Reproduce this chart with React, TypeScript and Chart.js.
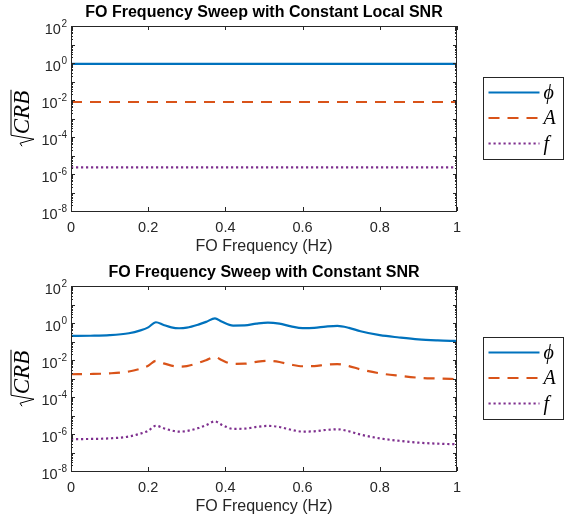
import React, { useEffect, useRef } from "react";
import { Chart, registerables } from "chart.js";

Chart.register(...registerables);

// ---------- Data ----------
const topFreqs = [0, 0.25, 0.5, 0.75, 1];
const topPhi = [0.9, 0.9, 0.9, 0.9, 0.9];
const topA = [0.0078, 0.0078, 0.0078, 0.0078, 0.0078];
const topF = [2.3e-6, 2.3e-6, 2.3e-6, 2.3e-6, 2.3e-6];

const botFreqs = [0, 0.05, 0.1, 0.15, 0.18, 0.2, 0.22, 0.24, 0.26, 0.28, 0.3, 0.33, 0.35, 0.373, 0.39, 0.42, 0.45, 0.48, 0.51, 0.54, 0.57, 0.6, 0.63, 0.66, 0.69, 0.72, 0.75, 0.8, 0.85, 0.9, 0.95, 1.0];
const botPhi = [0.2, 0.205, 0.22, 0.28, 0.4, 0.58, 1.1, 0.78, 0.58, 0.52, 0.56, 0.82, 1.15, 1.8, 1.2, 0.73, 0.74, 0.92, 1.05, 0.92, 0.66, 0.53, 0.55, 0.64, 0.7, 0.55, 0.36, 0.22, 0.165, 0.13, 0.115, 0.107];
const botA = [0.0017, 0.00175, 0.0019, 0.0024, 0.0034, 0.0049, 0.009, 0.0066, 0.005, 0.0044, 0.0047, 0.007, 0.0098, 0.015, 0.01, 0.0062, 0.0063, 0.0079, 0.009, 0.0078, 0.0056, 0.0046, 0.0047, 0.0055, 0.006, 0.0047, 0.0031, 0.0019, 0.0014, 0.0011, 0.001, 0.00093];
const botF = [5.3e-7, 5.4e-7, 5.8e-7, 7.3e-7, 1.05e-6, 1.5e-6, 2.8e-6, 2.05e-6, 1.55e-6, 1.35e-6, 1.45e-6, 2.1e-6, 3e-6, 4.8e-6, 3.2e-6, 1.9e-6, 1.95e-6, 2.4e-6, 2.75e-6, 2.4e-6, 1.7e-6, 1.35e-6, 1.4e-6, 1.65e-6, 1.8e-6, 1.4e-6, 9.3e-7, 5.8e-7, 4.3e-7, 3.4e-7, 3.0e-7, 2.8e-7];

const xTickValues = [0, 0.2, 0.4, 0.6, 0.8, 1];
const xTickLabels = ["0", "0.2", "0.4", "0.6", "0.8", "1"];
const yExponents = [-8, -6, -4, -2, 0, 2];
const seriesNames = ["ϕ", "A", "f"];

const COLORS = ["#0072BD", "#D95319", "#7E2F8E"];
const DASHES: number[][] = [[], [11, 8], [2.2, 2.8]];
const AXIS = "#262626";
const SANS = "'Liberation Sans', Arial, Helvetica, sans-serif";
const SERIF = "'Liberation Serif', 'DejaVu Serif', serif";

const matlabPlugin = {
  id: "matlabDecor",
  afterDraw(chart: any) {
    const ctx = chart.ctx as CanvasRenderingContext2D;
    const { left, right, top, bottom } = chart.chartArea;
    const xs = chart.scales.x;
    const ys = chart.scales.y;
    const title = chart.options.plugins.matlabDecor.title;
    ctx.save();
    // box
    ctx.strokeStyle = AXIS;
    ctx.lineWidth = 1;
    ctx.strokeRect(Math.round(left) + 0.5, Math.round(top) + 0.5, Math.round(right - left) - 1, Math.round(bottom - top));
    // x ticks
    ctx.beginPath();
    xTickValues.forEach((v) => {
      const px = Math.round(xs.getPixelForValue(v)) + 0.5;
      ctx.moveTo(px, bottom);
      ctx.lineTo(px, bottom - 4);
      ctx.moveTo(px, top);
      ctx.lineTo(px, top + 4);
    });
    // y ticks major/minor
    for (let e = -8; e <= 2; e++) {
      const py = Math.round(ys.getPixelForValue(Math.pow(10, e))) + 0.5;
      ctx.moveTo(left, py);
      ctx.lineTo(left + 4, py);
      ctx.moveTo(right, py);
      ctx.lineTo(right - 4, py);
      if (e < 2) {
        for (let m = 2; m <= 9; m++) {
          const pm = Math.round(ys.getPixelForValue(m * Math.pow(10, e))) + 0.5;
          ctx.moveTo(left, pm);
          ctx.lineTo(left + 2, pm);
          ctx.moveTo(right, pm);
          ctx.lineTo(right - 2, pm);
        }
      }
    }
    ctx.stroke();

    // y tick labels: 10^e
    ctx.fillStyle = AXIS;
    ctx.textBaseline = "alphabetic";
    yExponents.forEach((e) => {
      const py = ys.getPixelForValue(Math.pow(10, e));
      const expStr = e < 0 ? "-" + Math.abs(e) : String(e);
      ctx.font = `10px ${SANS}`;
      const ew = ctx.measureText(expStr).width;
      ctx.textAlign = "left";
      const xEnd = left - 4;
      ctx.fillText(expStr, xEnd - ew, py + 0.5);
      ctx.font = `14.5px ${SANS}`;
      ctx.textAlign = "right";
      ctx.fillText("10", xEnd - ew - 0.5, py + 7.5);
    });

    // title
    ctx.font = `bold 16px ${SANS}`;
    ctx.fillStyle = "#000";
    ctx.textAlign = "center";
    ctx.textBaseline = "middle";
    ctx.fillText(title, (left + right) / 2, top - 13);

    // x axis title
    ctx.font = `16px ${SANS}`;
    ctx.fillStyle = AXIS;
    ctx.fillText("FO Frequency (Hz)", (left + right) / 2, bottom + 36);

    // y axis title: sqrt(CRB)
    ctx.save();
    ctx.translate(29, (top + bottom) / 2);
    ctx.rotate(-Math.PI / 2);
    ctx.font = `italic 23px ${SERIF}`;
    ctx.fillStyle = "#000";
    ctx.textAlign = "left";
    ctx.textBaseline = "alphabetic";
    const txt = "CRB";
    const tw = ctx.measureText(txt).width;
    const radW = 12;
    const total = tw + radW;
    const x0 = -total / 2;
    ctx.fillText(txt, x0 + radW, 0);
    ctx.strokeStyle = "#000";
    ctx.lineWidth = 1;
    ctx.beginPath();
    ctx.moveTo(x0, -7);
    ctx.lineTo(x0 + 3, -9);
    ctx.lineTo(x0 + 7, 5);
    ctx.lineTo(x0 + radW - 1, -18);
    ctx.lineTo(x0 + total + 1, -18);
    ctx.stroke();
    ctx.restore();

    // legend
    const lx = 483.5, ly = 77.5, lw = 80, lh = 82;
    ctx.fillStyle = "#fff";
    ctx.fillRect(lx, ly, lw, lh);
    ctx.strokeStyle = AXIS;
    ctx.lineWidth = 1;
    ctx.strokeRect(lx, ly, lw, lh);
    chart.data.datasets.forEach((ds: any, i: number) => {
      const ry = ly + 15 + i * 25.5;
      ctx.strokeStyle = ds.borderColor;
      ctx.lineWidth = 2;
      ctx.setLineDash(ds.borderDash || []);
      ctx.beginPath();
      ctx.moveTo(lx + 5, ry);
      ctx.lineTo(lx + 56, ry);
      ctx.stroke();
      ctx.setLineDash([]);
      ctx.fillStyle = "#000";
      ctx.font = `italic 20px ${SERIF}`;
      ctx.textAlign = "left";
      ctx.textBaseline = "middle";
      ctx.fillText(ds.label, lx + 60, ry + 1);
    });
    ctx.restore();
  },
};

function makeDatasets(freqs: number[], series: number[][]) {
  return series.map((vals, i) => ({
    label: seriesNames[i],
    data: freqs.map((f, j) => ({ x: f, y: vals[j] })),
    borderColor: COLORS[i],
    backgroundColor: COLORS[i],
    borderWidth: 2.2,
    borderDash: DASHES[i],
    pointRadius: 0,
    fill: false,
    cubicInterpolationMode: "monotone" as const,
  }));
}

function Plot({ title, freqs, series }: { title: string; freqs: number[]; series: number[][] }) {
  const ref = useRef<HTMLCanvasElement | null>(null);
  useEffect(() => {
    if (!ref.current) return;
    const chart = new Chart(ref.current, {
      type: "line",
      data: { datasets: makeDatasets(freqs, series) as any },
      options: {
        animation: false,
        responsive: false,
        devicePixelRatio: 1,
        layout: { padding: { top: 26, right: 108, left: 0, bottom: 0 } },
        plugins: {
          legend: { display: false },
          title: { display: false },
          tooltip: { enabled: false },
          matlabDecor: { title },
        } as any,
        scales: {
          x: {
            type: "linear",
            min: 0,
            max: 1,
            afterBuildTicks: (s: any) => {
              s.ticks = xTickValues.map((v) => ({ value: v }));
            },
            afterFit: (s: any) => {
              s.height = 49;
            },
            ticks: {
              callback: (v: any) => {
                const k = xTickValues.findIndex((t) => Math.abs(t - Number(v)) < 1e-9);
                return k >= 0 ? xTickLabels[k] : "";
              },
              color: AXIS,
              font: { family: SANS, size: 14.5 },
              padding: 8,
              maxRotation: 0,
              autoSkip: false,
            },
            grid: { display: false, drawTicks: false },
            border: { display: false },
          },
          y: {
            type: "logarithmic",
            min: 1e-8,
            max: 1e2,
            afterFit: (s: any) => {
              s.width = 71;
            },
            ticks: { display: false },
            grid: { display: false, drawTicks: false },
            border: { display: false },
          },
        },
      },
      plugins: [matlabPlugin as any],
    });
    return () => chart.destroy();
  }, [title, freqs, series]);
  return <canvas ref={ref} width={565} height={260} style={{ display: "block", width: 565, height: 260 }} />;
}

export default function App() {
  return (
    <div style={{ position: "fixed", left: 0, top: 0, width: 565, height: 520, background: "#fff" }}>
      <Plot title="FO Frequency Sweep with Constant Local SNR" freqs={topFreqs} series={[topPhi, topA, topF]} />
      <Plot title="FO Frequency Sweep with Constant SNR" freqs={botFreqs} series={[botPhi, botA, botF]} />
    </div>
  );
}
